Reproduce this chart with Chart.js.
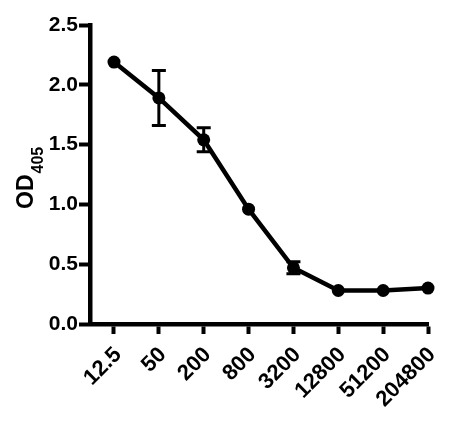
<!DOCTYPE html>
<html>
<head>
<meta charset="utf-8">
<script src="https://cdn.jsdelivr.net/npm/chart.js@4/dist/chart.umd.min.js"></script>
<style>
html,body{margin:0;padding:0;background:#fff;}
canvas{display:block;}
</style>
</head>
<body>
<canvas id="c" width="459" height="432"></canvas>
<script>
const dilutions = ['12.5','50','200','800','3200','12800','51200','204800'];
const od405 = [2.19, 1.89, 1.54, 0.96, 0.47, 0.28, 0.28, 0.30];
const odErr = [0, 0.23, 0.10, 0, 0.05, 0, 0, 0];
const yTicks = [0, 0.5, 1.0, 1.5, 2.0, 2.5];
const titleMain = 'OD';
const titleSub = '405';

const FONT = '"Liberation Sans", Arial, sans-serif';

const errorBars = {
  id: 'errorBars',
  afterDatasetsDraw(chart) {
    const ctx = chart.ctx, xs = chart.scales.x, ys = chart.scales.y;
    ctx.save();
    ctx.strokeStyle = '#000';
    ctx.lineWidth = 3;
    od405.forEach((v, i) => {
      const e = odErr[i];
      if (!e) return;
      const px = xs.getPixelForValue(i);
      const top = ys.getPixelForValue(v + e);
      const bot = ys.getPixelForValue(v - e);
      ctx.beginPath();
      ctx.moveTo(px, top); ctx.lineTo(px, bot);
      ctx.moveTo(px - 7, top); ctx.lineTo(px + 7, top);
      ctx.moveTo(px - 7, bot); ctx.lineTo(px + 7, bot);
      ctx.stroke();
    });
    ctx.restore();
  }
};

const yTitle = {
  id: 'yTitle',
  afterDraw(chart) {
    const ctx = chart.ctx;
    ctx.save();
    ctx.fillStyle = '#000';
    ctx.translate(33, 209);
    ctx.rotate(-Math.PI / 2);
    ctx.textBaseline = 'alphabetic';
    ctx.textAlign = 'left';
    ctx.font = 'bold 23px ' + FONT;
    ctx.fillText(titleMain, 0, 0);
    const w = ctx.measureText(titleMain).width;
    ctx.font = 'bold 16px ' + FONT;
    ctx.fillText(titleSub, w + 1, 10);
    ctx.restore();
  }
};

new Chart(document.getElementById('c'), {
  type: 'line',
  data: {
    datasets: [{
      data: od405.map((v, i) => ({x: i, y: v})),
      borderColor: '#000',
      backgroundColor: '#000',
      borderWidth: 4.5,
      pointRadius: 6.5,
      pointHoverRadius: 6.5,
      pointBackgroundColor: '#000',
      pointBorderColor: '#000',
      pointBorderWidth: 0,
      tension: 0,
      clip: false
    }]
  },
  options: {
    responsive: false,
    animation: false,
    devicePixelRatio: 1,
    layout: {padding: {top: 25, right: 31, left: 0, bottom: 0}},
    plugins: {legend: {display: false}, tooltip: {enabled: false}},
    scales: {
      x: {
        type: 'linear',
        min: -0.535,
        max: dilutions.length - 1,
        afterBuildTicks: s => { s.ticks = dilutions.map((d, i) => ({value: i})); },
        afterFit: s => { s.height = 108; },
        border: {display: true, width: 4.5, color: '#000'},
        grid: {drawOnChartArea: false, drawTicks: true, tickLength: 10, tickWidth: 4, tickColor: '#000'},
        ticks: {
          color: '#000',
          font: {family: FONT, size: 22, weight: 'bold'},
          minRotation: 45, maxRotation: 45,
          padding: 8,
          labelOffset: 4,
          callback: v => dilutions[v]
        }
      },
      y: {
        type: 'linear',
        min: 0,
        max: 2.5,
        afterBuildTicks: s => { s.ticks = yTicks.map(v => ({value: v})); },
        afterFit: s => { s.width = 90; },
        border: {display: true, width: 4.5, color: '#000'},
        grid: {drawOnChartArea: false, drawTicks: true, tickLength: 11, tickWidth: 4, tickColor: '#000'},
        ticks: {
          color: '#000',
          font: {family: FONT, size: 21, weight: 'bold'},
          padding: 1,
          callback: v => v.toFixed(1)
        }
      }
    }
  },
  plugins: [errorBars, yTitle]
});
</script>
</body>
</html>
